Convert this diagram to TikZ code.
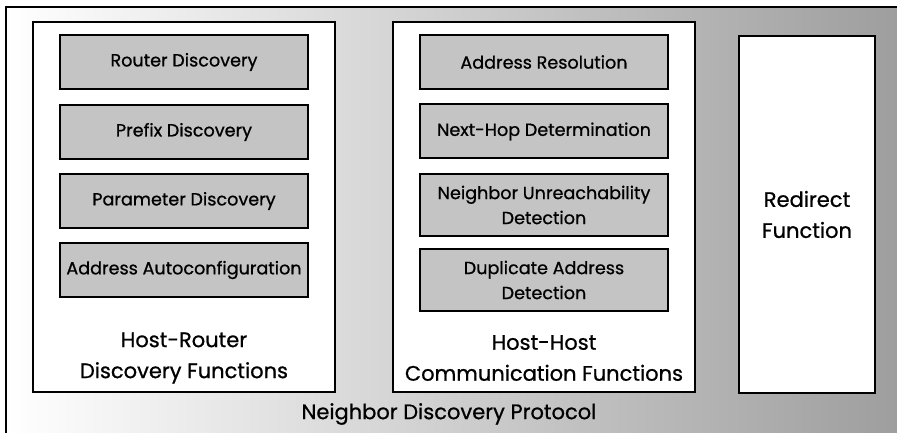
\documentclass[tikz,border=0pt]{standalone}
\usepackage{fontspec}
\setmainfont{Poppins}[FakeBold=0.8]
\usepackage{tikz}

\begin{document}
\begin{tikzpicture}[x=1pt,y=-1pt,
 grp/.style={draw,line width=2pt,fill=white,inner sep=0pt},
 fn/.style={draw,line width=2pt,fill=black!23,minimum width=248pt,align=center,
  font=\fontsize{17.6}{25}\selectfont},
 lbl/.style={align=center,font=\fontsize{21}{31}\selectfont}]
\useasboundingbox (0,0) rectangle (897,433);
\shade[left color=white,right color=black!38] (6,7) rectangle (897,433);
\draw[line width=1.5pt] (897,7) -- (6,7) -- (6,433);
% the three groups
\node[grp,minimum width=302pt,minimum height=370pt] (hr) at (184,207) {};
\node[grp,minimum width=302pt,minimum height=370pt] (hh) at (544,207) {};
\node[grp,minimum width=136pt,minimum height=357pt,lbl] (rd) at (807,214.5) {Redirect\\Function};
% host-router
\node[fn,minimum height=54pt] (rtr) at (184,62) {Router Discovery};
\node[fn,minimum height=54pt] (pfx) at (184,132) {Prefix Discovery};
\node[fn,minimum height=54pt] (par) at (184,201) {Parameter Discovery};
\node[fn,minimum height=54pt] (aac) at (184,270) {Address Autoconfiguration};
\node[lbl] (hrl) at (184,358) {Host-Router\\Discovery Functions};
% host-host
\node[fn,minimum height=54pt] (res) at (544,62) {Address Resolution};
\node[fn,minimum height=54pt] (nxt) at (544,131.5) {Next-Hop Determination};
\node[fn,minimum height=62pt] (nud) at (544,205) {Neighbor Unreachability\\Detection};
\node[fn,minimum height=62pt] (dad) at (544,280) {Duplicate Address\\Detection};
\node[lbl] (hhl) at (544,358) {Host-Host\\Communication Functions};
\node[lbl] (ndp) at (449,414) {Neighbor Discovery Protocol};
\end{tikzpicture}
\end{document}
